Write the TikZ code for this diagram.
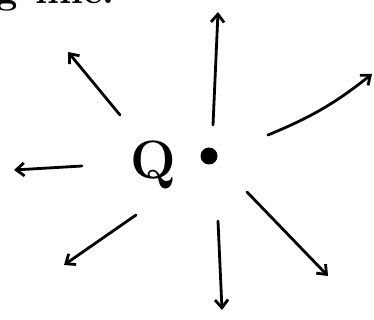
\documentclass[tikz,border=0pt]{standalone}
\usetikzlibrary{arrows.meta}
\begin{document}
\begin{tikzpicture}[x=1pt,y=-1pt,
  ray/.style={line width=2.8pt,line cap=round,-{Straight Barb[length=8pt,width=13pt,line width=2.8pt]}},
  big/.style={font=\fontsize{54}{58}\selectfont\bfseries,inner sep=0pt}]
\useasboundingbox (0,0) rectangle (374,320);
\clip (0,0) rectangle (374,320);
\node[font=\fontsize{38}{40}\selectfont\bfseries,inner sep=0pt,anchor=base west] (txt) at (-4,4) {g\hspace{18pt}line.};
\node[big] (Q) at (153,165) {Q};
\node[circle,fill=black,minimum size=17pt,inner sep=0pt] (dot) at (209,156) {};
\coordinate (u0) at (213,125); \coordinate (u1) at (218,12);
\coordinate (ul0) at (120,115); \coordinate (ul1) at (68,52);
\coordinate (ur0) at (268,135); \coordinate (ur1) at (372,74);
\coordinate (l0) at (82,166); \coordinate (l1) at (14,170);
\coordinate (dl0) at (136,215); \coordinate (dl1) at (64,265);
\coordinate (d0) at (218,221); \coordinate (d1) at (222,310);
\coordinate (dr0) at (247,192); \coordinate (dr1) at (328,276);
\draw[ray] (u0) -- (u1);
\draw[ray] (ul0) -- (ul1);
\draw[ray] (ur0) to[bend right=8] (ur1);
\draw[ray] (l0) -- (l1);
\draw[ray] (dl0) -- (dl1);
\draw[ray] (d0) -- (d1);
\draw[ray] (dr0) -- (dr1);
\end{tikzpicture}
\end{document}
